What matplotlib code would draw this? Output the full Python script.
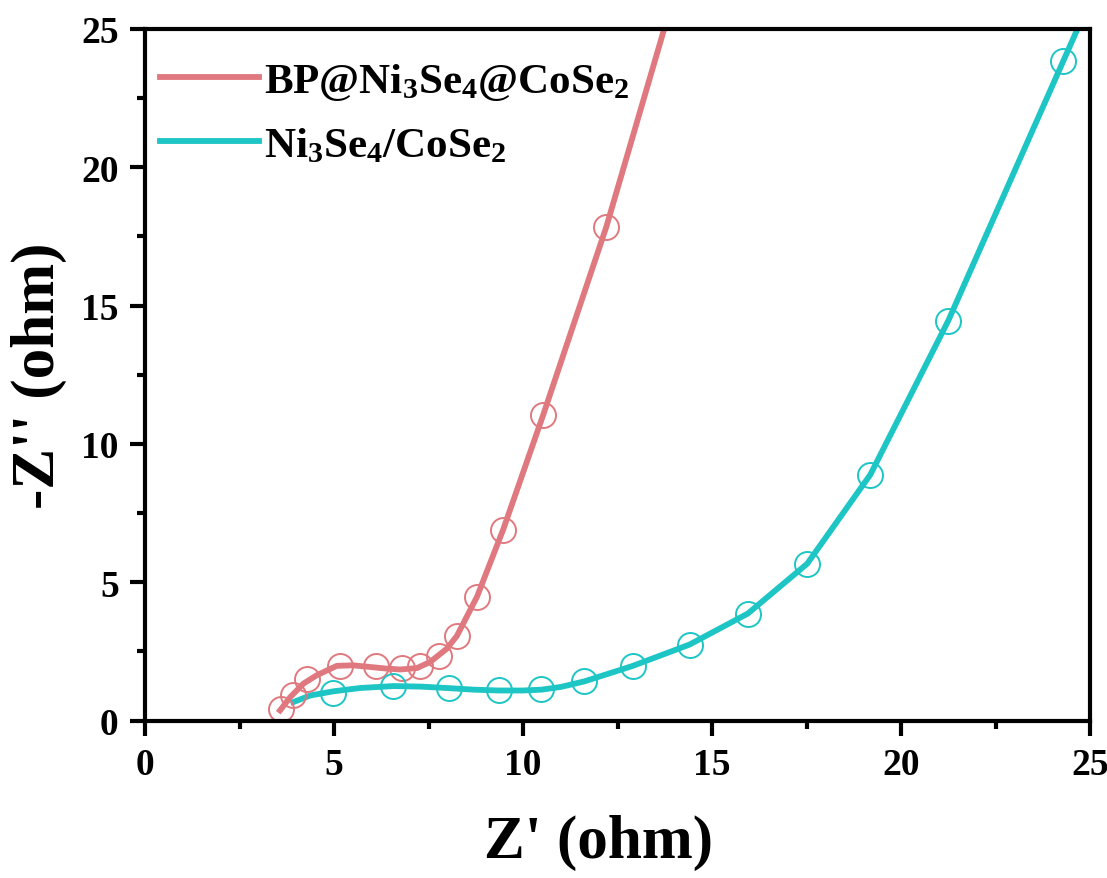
import matplotlib.pyplot as plt
from matplotlib.ticker import MultipleLocator

# measured points (open circles)
bp_x = [3.60, 3.91, 4.29, 5.16, 6.11, 6.79, 7.28, 7.78, 8.25, 8.78, 9.47, 10.53, 12.20]
bp_y = [0.43, 0.94, 1.52, 1.99, 1.99, 1.91, 1.99, 2.35, 3.07, 4.48, 6.90, 11.05, 17.85]

ns_x = [4.98, 6.57, 8.04, 9.35, 10.48, 11.62, 12.90, 14.40, 15.94, 17.51, 19.18, 21.24, 24.28]
ns_y = [1.01, 1.25, 1.18, 1.09, 1.13, 1.42, 1.98, 2.75, 3.87, 5.67, 8.89, 14.45, 23.83]

# fitted curves
bp_fit_x = [3.57, 3.84, 4.19, 4.54, 5.07, 5.50, 5.95, 6.40, 6.75, 7.19, 7.54, 7.98,
            8.25, 8.78, 9.47, 10.53, 12.20, 13.73]
bp_fit_y = [0.37, 0.85, 1.34, 1.64, 1.98, 2.00, 1.94, 1.88, 1.85, 1.90, 2.12, 2.60,
            3.07, 4.48, 6.90, 11.05, 17.85, 25.0]

ns_fit_x = [3.92, 4.37, 4.98, 5.69, 6.57, 7.30, 7.98, 8.70, 9.35, 10.00, 10.48, 11.00,
            11.62, 12.90, 14.40, 15.94, 17.51, 19.18, 21.24, 24.28, 24.66]
ns_fit_y = [0.67, 0.91, 1.06, 1.18, 1.25, 1.23, 1.18, 1.12, 1.09, 1.09, 1.12, 1.22,
            1.42, 1.98, 2.75, 3.87, 5.67, 8.89, 14.45, 23.83, 25.0]

red = '#E0797F'
cyan = '#1EC5C5'

plt.rcParams['font.family'] = ['Liberation Serif', 'DejaVu Serif']
plt.rcParams['font.weight'] = 'bold'
plt.rcParams['mathtext.fontset'] = 'custom'
plt.rcParams['mathtext.rm'] = 'Liberation Serif:bold'
plt.rcParams['mathtext.bf'] = 'Liberation Serif:bold'

fig = plt.figure(figsize=(11.07, 8.79), dpi=100)
ax = fig.add_axes([0.131, 0.179, 0.854, 0.787])

ax.plot(bp_fit_x, bp_fit_y, color=red, lw=4.2, solid_joinstyle='round',
        label=r'$\mathbf{BP@Ni_3Se_4@CoSe_2}$')
ax.plot(ns_fit_x, ns_fit_y, color=cyan, lw=4.2, solid_joinstyle='round',
        label=r'$\mathbf{Ni_3Se_4/CoSe_2}$')
ax.plot(bp_x, bp_y, 'o', ms=18, mfc='none', mec=red, mew=1.4)
ax.plot(ns_x, ns_y, 'o', ms=18, mfc='none', mec=cyan, mew=1.4)

ax.set_xlim(0, 25)
ax.set_ylim(0, 25)
ax.xaxis.set_major_locator(MultipleLocator(5))
ax.xaxis.set_minor_locator(MultipleLocator(2.5))
ax.yaxis.set_major_locator(MultipleLocator(5))
ax.yaxis.set_minor_locator(MultipleLocator(2.5))

for s in ax.spines.values():
    s.set_linewidth(3)
ax.tick_params(which='major', direction='out', length=11, width=3, labelsize=27, pad=8)
ax.tick_params(which='minor', direction='out', length=6, width=3)

ax.set_xlabel("Z' (ohm)", fontsize=44, fontweight='bold', labelpad=16)
ax.xaxis.set_label_coords(0.48, -0.135)
ax.set_ylabel("-Z'' (ohm)", fontsize=44, fontweight='bold', labelpad=10)

ax.legend(loc='upper left', bbox_to_anchor=(0.002, 0.972), frameon=False,
          fontsize=31, handlelength=2.3, handletextpad=0.12, labelspacing=0.55,
          borderaxespad=0, borderpad=0.3)

fig.savefig('out.png', dpi=100)
